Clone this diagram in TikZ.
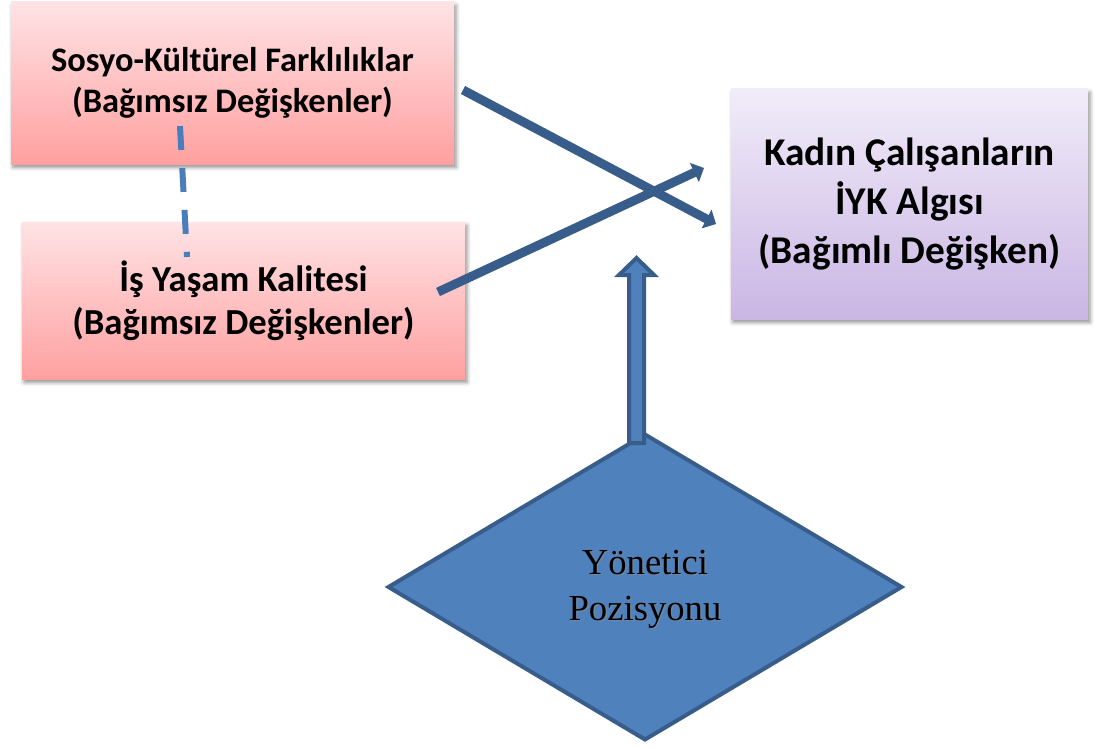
\documentclass[tikz,border=0pt]{standalone}
\usepackage{fontspec}
\setmainfont{Liberation Serif}
\newfontfamily\boxfont{Carlito}
\usetikzlibrary{arrows.meta,shapes.geometric,shadows.blur}
\definecolor{pinkT}{RGB}{255,227,229}
\definecolor{pinkB}{RGB}{255,160,160}
\definecolor{lilT}{RGB}{241,236,249}
\definecolor{lilB}{RGB}{202,182,228}
\definecolor{arrowblue}{RGB}{56,93,138}
\definecolor{fillblue}{RGB}{79,129,189}
\definecolor{dashblue}{RGB}{74,126,187}
\begin{document}
\begin{tikzpicture}[x=0.75pt,y=-0.75pt,
  box/.style={rectangle, inner sep=0pt, align=center, font=\boxfont\bfseries,
    blur shadow={shadow xshift=1.5pt, shadow yshift=-2.5pt, shadow blur radius=3pt, shadow opacity=45}},
  pinkbox/.style={box, top color=pinkT, bottom color=pinkB},
  lilbox/.style={box, top color=lilT, bottom color=lilB},
  thinarrow/.style={draw=arrowblue, line width=6.75pt, -{Triangle[length=8pt,width=15.5pt]}},
  dashlink/.style={draw=dashblue, line width=4.5pt, dash pattern=on 18pt off 13.5pt},
  blockarrow/.style={draw=arrowblue, fill=fillblue, line width=3pt, line join=miter},
  dtext/.style={align=center, font=\fontsize{27.5}{34.5}\selectfont, inner sep=0pt}
]
\useasboundingbox (0,0) rectangle (1096,749);

% boxes
\node[pinkbox, minimum width=332.25pt, minimum height=121.5pt,
  font=\boxfont\bfseries\fontsize{25.8}{30.5}\selectfont] (sosyo) at (232.5,83)
  {Sosyo-Kültürel Farklılıklar\\(Bağımsız Değişkenler)};
\node[pinkbox, minimum width=332.25pt, minimum height=117.75pt,
  font=\boxfont\bfseries\fontsize{27.5}{32.5}\selectfont] (isyasam) at (243.5,300.5)
  {İş Yaşam Kalitesi\\(Bağımsız Değişkenler)};
\node[lilbox, minimum width=267.75pt, minimum height=172.5pt,
  font=\boxfont\bfseries\fontsize{29.5}{36.5}\selectfont] (kadin) at (909.5,204)
  {Kadın Çalışanların\\İYK Algısı\\(Bağımlı Değişken)};

% dashed link
\coordinate (dA) at (180,126);
\coordinate (dB) at (187,257);
\draw[dashlink] (dA) -- (dB);

% diagonal arrows
\coordinate (a1s) at (463,90);
\coordinate (a1e) at (716,224);
\coordinate (a2s) at (438,292);
\coordinate (a2e) at (704,168);
\draw[thinarrow] (a1s) -- (a1e);
\draw[thinarrow] (a2s) -- (a2e);

% diamond
\node[diamond, draw=arrowblue, fill=fillblue, line width=3pt, inner sep=0pt,
  minimum width=386pt, minimum height=230pt] (yon) at (645,587) {};

% block arrow up
\draw[blockarrow] (629,443) -- (629,275) -- (619,275) -- (636.5,258) -- (654,275)
  -- (644,275) -- (644,443) -- cycle;

% diamond text with soft shadow
\node[dtext, text=black!45, opacity=0.6] (yonshadow) at (646.2,590.2)
  {Yönetici\\Pozisyonu};
\node[dtext] (yontext) at (645,589) {Yönetici\\Pozisyonu};
\end{tikzpicture}
\end{document}
